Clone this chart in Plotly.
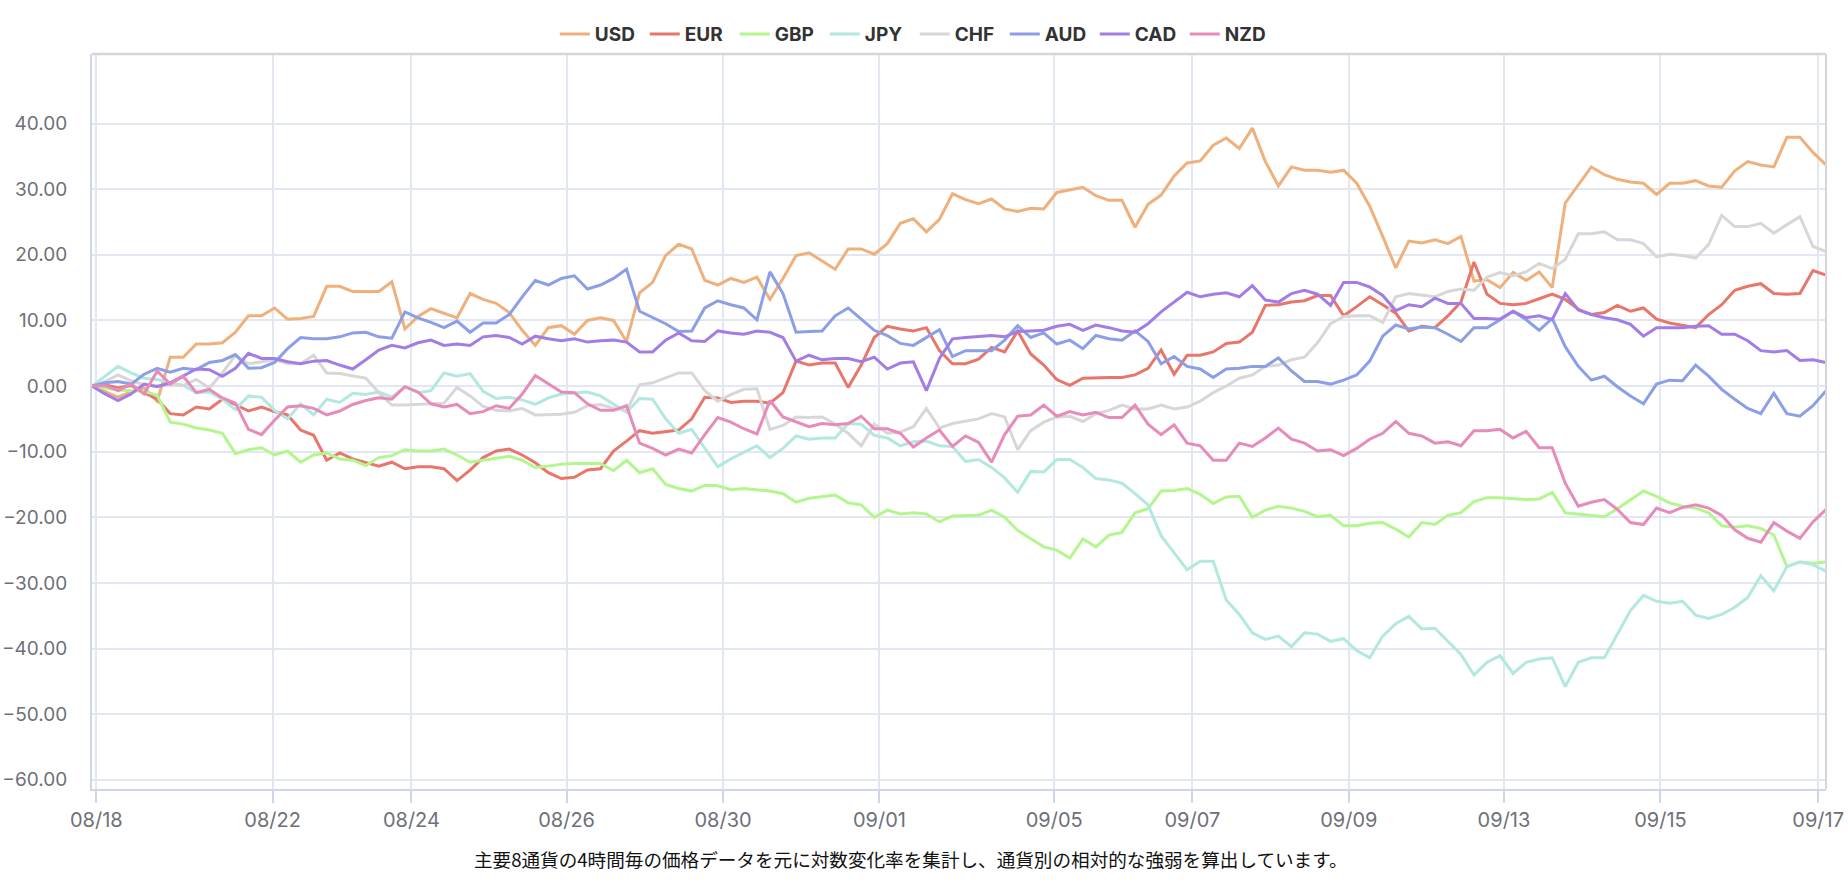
import plotly.graph_objects as go

CURRENCIES = ["USD", "EUR", "GBP", "JPY", "CHF", "AUD", "CAD", "NZD"]

USD = [0, -0.9, -1.7, -0.9, -0.3, -2.3, 4.4, 4.4, 6.4, 6.4,
       6.6, 8.2, 10.7, 10.7, 11.9, 10.2, 10.3, 10.6, 15.2, 15.2,
       14.4, 14.4, 14.4, 15.9, 8.7, 10.6, 11.8, 11.1, 10.4, 14.1,
       13.2, 12.6, 11.2, 8.5, 6.2, 8.9, 9.2, 7.9, 10.0, 10.4,
       10.0, 6.8, 14.2, 15.8, 19.9, 21.6, 20.9, 16.1, 15.4, 16.4,
       15.8, 16.6, 13.2, 16.4, 19.9, 20.3, 19.1, 17.8, 20.9, 20.9,
       20.1, 21.7, 24.8, 25.5, 23.5, 25.4, 29.3, 28.4, 27.8, 28.5,
       27.0, 26.6, 27.1, 27.0, 29.5, 29.9, 30.3, 29.0, 28.3, 28.3,
       24.2, 27.7, 29.1, 32.0, 34.0, 34.3, 36.7, 37.8, 36.2, 39.3,
       34.2, 30.5, 33.4, 32.9, 32.9, 32.6, 32.9, 30.9, 27.4, 22.8,
       18.0, 22.1, 21.8, 22.3, 21.7, 22.8, 16.0, 16.2, 15.0, 17.3,
       16.1, 17.4, 15.0, 27.9, 30.7, 33.4, 32.2, 31.5, 31.1, 30.9,
       29.2, 30.9, 30.9, 31.3, 30.5, 30.3, 32.8, 34.2, 33.7, 33.4,
       37.9, 37.9, 35.6, 33.7]

EUR = [0, 0.2, -0.3, 0.1, -1.0, -2.0, -4.2, -4.4, -3.2, -3.5,
       -2.0, -2.8, -3.8, -3.2, -3.9, -4.4, -6.7, -7.5, -11.3, -10.2,
       -11.1, -11.7, -12.2, -11.6, -12.6, -12.3, -12.3, -12.6, -14.4, -12.8,
       -10.9, -9.9, -9.6, -10.5, -11.7, -13.2, -14.1, -13.9, -12.8, -12.6,
       -9.9, -8.4, -6.8, -7.2, -6.9, -6.7, -5.0, -1.7, -1.8, -2.5,
       -2.3, -2.3, -2.6, -1.0, 3.8, 3.2, 3.5, 3.5, -0.2, 3.2,
       7.4, 9.1, 8.7, 8.4, 8.9, 5.4, 3.4, 3.4, 4.1, 5.9,
       5.2, 8.4, 4.9, 3.2, 1.0, 0.1, 1.2, 1.3, 1.3, 1.3,
       1.7, 2.7, 5.5, 1.8, 4.7, 4.7, 5.2, 6.5, 6.7, 8.2,
       12.3, 12.4, 12.8, 13.0, 13.8, 13.8, 10.7, 12.1, 13.6, 12.4,
       11.1, 8.4, 9.1, 8.9, 10.7, 12.8, 18.9, 14.0, 12.6, 12.4,
       12.6, 13.3, 14.0, 13.2, 11.7, 10.9, 11.2, 12.3, 11.4, 11.9,
       10.2, 9.6, 9.3, 8.9, 10.9, 12.4, 14.6, 15.2, 15.6, 14.1,
       14.0, 14.1, 17.6, 16.9]

GBP = [0, -0.3, -0.6, -0.7, -0.8, -1.4, -5.5, -5.8, -6.4, -6.7,
       -7.2, -10.3, -9.7, -9.4, -10.5, -9.9, -11.6, -10.5, -10.2, -11.1,
       -11.3, -12.1, -10.9, -10.6, -9.7, -9.9, -9.9, -9.6, -10.5, -11.6,
       -11.3, -10.9, -10.7, -11.3, -12.4, -12.2, -11.9, -11.8, -11.8, -11.8,
       -12.9, -11.3, -13.2, -12.6, -15.0, -15.6, -16.0, -15.1, -15.2, -15.8,
       -15.6, -15.8, -16.0, -16.4, -17.7, -17.1, -16.9, -16.6, -17.8, -18.1,
       -20.0, -18.9, -19.5, -19.3, -19.5, -20.7, -19.8, -19.8, -19.7, -18.9,
       -20.0, -22.0, -23.2, -24.5, -25.0, -26.2, -23.3, -24.5, -22.7, -22.3,
       -19.3, -18.7, -16.0, -15.9, -15.6, -16.5, -17.9, -16.9, -16.8, -20.0,
       -18.9, -18.3, -18.6, -19.1, -19.9, -19.7, -21.3, -21.3, -20.9, -20.8,
       -21.8, -23.0, -20.8, -21.1, -19.7, -19.3, -17.6, -17.0, -17.0, -17.2,
       -17.3, -17.2, -16.2, -19.3, -19.5, -19.8, -19.9, -18.7, -17.4, -16.0,
       -16.8, -17.8, -18.3, -18.6, -19.3, -21.3, -21.5, -21.3, -21.7, -22.7,
       -27.5, -26.8, -27.0, -26.8]

JPY = [0, 1.5, 3.0, 2.0, 1.2, 1.0, 0.5, 0.1, -1.0, -0.9,
       -2.0, -3.6, -1.5, -1.7, -3.7, -5.0, -2.7, -4.4, -2.0, -2.5,
       -1.1, -1.3, -0.9, -1.7, -0.1, -1.0, -0.7, 2.0, 1.5, 1.9,
       -0.8, -1.9, -1.7, -2.1, -2.8, -1.8, -1.2, -1.0, -0.9, -1.5,
       -2.7, -4.0, -1.9, -2.0, -5.0, -7.2, -6.6, -9.4, -12.3, -11.1,
       -10.1, -9.1, -10.9, -9.5, -7.6, -8.1, -7.9, -7.9, -5.7, -5.8,
       -7.5, -7.9, -9.1, -8.5, -8.4, -9.1, -9.2, -11.5, -11.2, -12.4,
       -14.0, -16.2, -13.0, -13.1, -11.2, -11.2, -12.4, -14.1, -14.3, -14.8,
       -16.4, -18.1, -22.8, -25.4, -28.0, -26.7, -26.7, -32.6, -34.8, -37.6,
       -38.6, -38.1, -39.7, -37.6, -37.8, -38.9, -38.5, -40.3, -41.4, -38.1,
       -36.2, -35.1, -37.0, -36.9, -38.9, -40.9, -44.0, -42.1, -41.1, -43.8,
       -42.1, -41.6, -41.4, -45.8, -42.1, -41.4, -41.4, -37.9, -34.2, -31.9,
       -32.8, -33.1, -32.8, -34.9, -35.4, -34.8, -33.7, -32.2, -28.9, -31.2,
       -27.5, -26.8, -27.2, -28.2]

CHF = [0, 0.7, 1.7, 0.8, 0.2, 0.1, 0.2, 0.1, 1.0, -0.3,
       2.0, 4.7, 3.4, 3.7, 4.0, 3.4, 3.4, 4.7, 2.0, 1.9,
       1.5, 1.2, -1.0, -2.9, -2.9, -2.8, -2.7, -2.6, -0.2, -1.5,
       -3.1, -3.7, -3.8, -3.4, -4.4, -4.4, -4.3, -4.0, -3.0, -2.8,
       -3.4, -3.7, 0.2, 0.5, 1.3, 2.0, 2.0, -0.7, -2.3, -1.3,
       -0.5, -0.4, -6.6, -6.0, -4.7, -4.8, -4.7, -5.8, -7.2, -9.1,
       -5.8, -7.2, -7.0, -6.2, -3.4, -6.4, -5.7, -5.4, -5.0, -4.2,
       -4.7, -9.7, -6.8, -5.5, -4.7, -4.6, -5.4, -4.2, -3.7, -2.9,
       -3.5, -3.5, -2.9, -3.5, -3.2, -2.3, -1.0, 0.0, 1.2, 1.7,
       3.0, 3.2, 4.0, 4.4, 6.6, 9.5, 10.6, 10.7, 10.7, 9.7,
       13.6, 14.1, 13.9, 13.6, 14.4, 14.8, 14.6, 16.6, 17.3, 16.8,
       17.4, 18.7, 17.9, 19.3, 23.2, 23.2, 23.5, 22.3, 22.3, 21.7,
       19.7, 20.1, 19.9, 19.5, 21.6, 26.0, 24.3, 24.3, 24.8, 23.3,
       24.6, 25.8, 21.3, 20.5]

AUD = [0, 0.5, 0.7, 0.3, 1.8, 2.7, 2.1, 2.7, 2.5, 3.6,
       3.9, 4.8, 2.7, 2.8, 3.6, 5.7, 7.4, 7.2, 7.2, 7.5,
       8.1, 8.2, 7.5, 7.3, 11.3, 10.4, 9.7, 8.9, 9.9, 8.2,
       9.6, 9.6, 10.9, 13.6, 16.1, 15.4, 16.4, 16.8, 14.8, 15.4,
       16.4, 17.8, 11.4, 10.4, 9.5, 8.3, 8.4, 11.9, 13.0, 12.4,
       11.9, 10.1, 17.4, 14.1, 8.2, 8.3, 8.4, 10.7, 11.9, 10.2,
       8.5, 7.7, 6.5, 6.2, 7.4, 8.6, 4.5, 5.4, 5.4, 5.4,
       7.0, 9.2, 7.4, 8.1, 6.4, 7.0, 5.7, 7.7, 7.2, 7.0,
       8.4, 6.8, 3.4, 4.5, 3.0, 2.6, 1.3, 2.6, 2.7, 3.0,
       3.0, 4.3, 2.3, 0.7, 0.7, 0.3, 0.9, 1.7, 3.8, 7.6,
       9.3, 8.7, 9.0, 8.9, 7.9, 6.8, 8.9, 8.9, 10.1, 11.4,
       10.1, 8.5, 10.3, 6.0, 3.0, 0.9, 1.5, -0.1, -1.5, -2.7,
       0.3, 0.9, 0.8, 3.2, 1.5, -0.5, -2.0, -3.4, -4.2, -1.1,
       -4.2, -4.6, -3.0, -0.7]

CAD = [0, -1.2, -2.2, -1.2, 0.3, -0.1, 0.5, 1.5, 2.6, 2.5,
       1.5, 2.7, 5.0, 4.2, 4.2, 3.7, 3.4, 3.8, 3.9, 3.2,
       2.6, 4.0, 5.5, 6.2, 5.8, 6.6, 7.0, 6.2, 6.4, 6.2,
       7.5, 7.7, 7.4, 6.4, 7.6, 7.2, 6.9, 7.2, 6.7, 6.9,
       7.0, 6.7, 5.2, 5.2, 7.0, 8.1, 6.9, 6.8, 8.4, 8.1,
       7.9, 8.4, 8.2, 7.4, 3.8, 4.7, 4.0, 4.2, 4.2, 3.7,
       4.4, 2.6, 3.5, 3.7, -0.7, 4.2, 7.2, 7.4, 7.5, 7.7,
       7.5, 8.3, 8.4, 8.5, 9.1, 9.4, 8.5, 9.3, 8.9, 8.4,
       8.2, 9.5, 11.3, 12.8, 14.3, 13.6, 14.0, 14.2, 13.6, 15.3,
       13.1, 12.8, 14.1, 14.6, 14.0, 12.3, 15.8, 15.8, 15.1, 13.8,
       11.5, 12.4, 12.1, 13.4, 12.6, 12.6, 10.3, 10.3, 10.2, 11.4,
       10.4, 10.7, 10.1, 14.1, 11.6, 10.9, 10.4, 10.1, 9.4, 7.6,
       8.9, 8.9, 8.9, 9.1, 9.2, 7.9, 7.9, 6.9, 5.4, 5.2,
       5.4, 3.9, 4.0, 3.6]

NZD = [0, 0.1, -0.7, 0.3, -1.2, 2.3, 0.3, 1.5, -1.0, -0.5,
       -1.8, -2.6, -6.6, -7.4, -5.2, -3.2, -3.0, -3.4, -4.4, -3.8,
       -2.8, -2.2, -1.8, -2.0, -0.1, -0.9, -2.7, -3.2, -2.8, -4.2,
       -3.9, -3.0, -3.4, -1.2, 1.6, 0.3, -0.9, -1.0, -2.7, -3.7,
       -3.7, -3.0, -8.7, -9.5, -10.5, -9.6, -10.2, -7.4, -4.8, -5.5,
       -6.5, -7.3, -2.2, -4.7, -5.5, -6.2, -5.7, -5.9, -5.7, -4.6,
       -6.5, -6.5, -7.2, -9.3, -7.9, -6.7, -9.2, -7.6, -8.6, -11.6,
       -7.4, -4.6, -4.4, -2.9, -4.6, -3.9, -4.4, -4.0, -4.8, -4.8,
       -2.9, -5.8, -7.4, -5.9, -8.7, -9.1, -11.3, -11.3, -8.7, -9.2,
       -7.9, -6.4, -8.1, -8.7, -9.9, -9.7, -10.6, -9.5, -8.1, -7.2,
       -5.4, -7.2, -7.6, -8.7, -8.5, -9.1, -6.8, -6.8, -6.6, -7.9,
       -6.9, -9.4, -9.4, -14.8, -18.3, -17.7, -17.3, -18.8, -20.8, -21.1,
       -18.6, -19.3, -18.5, -18.1, -18.6, -19.7, -21.9, -23.2, -23.8, -20.8,
       -22.1, -23.2, -20.7, -18.8]

# x-axis date labels and their position on the 4-hour sample index
TICK_LABELS = ["08/18", "08/22", "08/24", "08/26", "08/30", "09/01",
               "09/05", "09/07", "09/09", "09/13", "09/15", "09/17"]
TICK_INDEX = [0.33, 13.85, 24.5, 36.4, 48.4, 60.4, 73.8, 84.4, 96.4, 108.3, 120.3, 132.4]

Y_TICKS = [-60, -50, -40, -30, -20, -10, 0, 10, 20, 30, 40]

CAPTION = "主要8通貨の4時間毎の価格データを元に対数変化率を集計し、通貨別の相対的な強弱を算出しています。"

COLORS = {
    "USD": "#EFB07C",
    "EUR": "#E8766B",
    "GBP": "#B4F68E",
    "JPY": "#B2E8DF",
    "CHF": "#D7D7D7",
    "AUD": "#8B9FE6",
    "CAD": "#A37DE6",
    "NZD": "#E78BBA",
}

SERIES = {"USD": USD, "EUR": EUR, "GBP": GBP, "JPY": JPY,
          "CHF": CHF, "AUD": AUD, "CAD": CAD, "NZD": NZD}

fig = go.Figure()
for name in CURRENCIES:
    vals = SERIES[name]
    fig.add_trace(go.Scatter(
        x=list(range(len(vals))), y=vals, mode="lines", name=name,
        line=dict(color=COLORS[name], width=3),
    ))

AXIS_LINE = "#CFD6EA"
GRID = "#E3E7F1"
LABEL = "#6E7079"
FONT = "Inter, DejaVu Sans, sans-serif"

n = len(USD)
fig.update_layout(
    width=1848, height=892,
    margin=dict(l=92, r=22, t=54, b=103),
    paper_bgcolor="white", plot_bgcolor="white",
    font=dict(family=FONT, size=18, color=LABEL),
    showlegend=True,
    legend=dict(
        orientation="h", x=0.4745, xanchor="center", y=1.027, yanchor="middle",
        font=dict(family=FONT, size=19, color="#333333", weight="bold"),
        entrywidth=45, entrywidthmode="pixels",
        bgcolor="rgba(0,0,0,0)", itemclick=False, itemdoubleclick=False,
    ),
    xaxis=dict(
        range=[0, n - 1], tickmode="array", tickvals=TICK_INDEX, ticktext=TICK_LABELS,
        showgrid=True, gridcolor=GRID, gridwidth=1.5, zeroline=False,
        showline=True, linecolor=AXIS_LINE, linewidth=2, automargin=False,
        ticks="outside", ticklen=12, tickcolor=AXIS_LINE, tickwidth=1.5,
        tickfont=dict(family=FONT, size=20, color=LABEL),
    ),
    yaxis=dict(
        range=[-61.4, 50.6], tickmode="array", tickvals=Y_TICKS,
        tickformat=".2f", showgrid=True, gridcolor=GRID, gridwidth=1.5,
        zeroline=False, showline=True, linecolor=AXIS_LINE, linewidth=2,
        automargin=False, ticks="", ticklabelstandoff=19,
        tickfont=dict(family=FONT, size=19, color=LABEL),
    ),
    shapes=[
        dict(type="line", xref="paper", yref="paper", x0=0, x1=1, y0=1, y1=1,
             line=dict(color="#D6D6D6", width=2.5), layer="above"),
        dict(type="line", xref="paper", yref="paper", x0=1, x1=1, y0=0, y1=1,
             line=dict(color="#D6D6D6", width=2), layer="above"),
    ],
    annotations=[
        dict(text=CAPTION, xref="paper", yref="paper", x=0.4723, y=-0.094,
             xanchor="center", yanchor="middle", showarrow=False,
             font=dict(family="Noto Sans CJK JP", size=18.6, color="#111111")),
    ],
)

fig.write_html("out.html")
